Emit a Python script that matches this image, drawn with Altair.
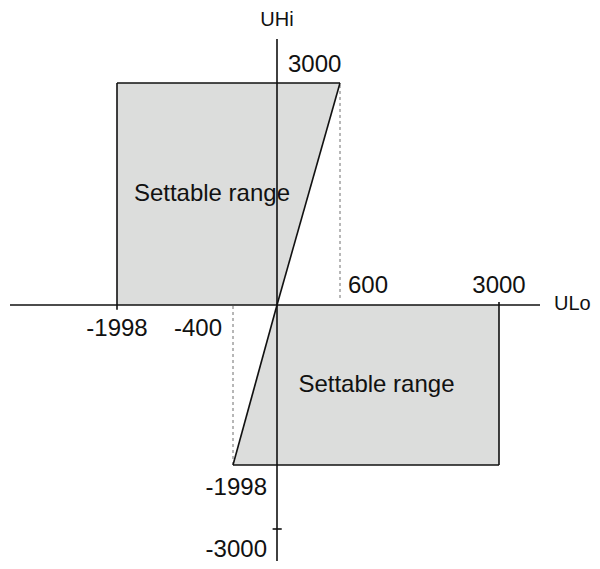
import altair as alt
import pandas as pd

# ---- data (values in ULo / UHi units) ----
upper_x = [-1998, 0, 600]
upper_top = [3000, 3000, 3000]
upper_bottom = [0, 0, 3000]

lower_x = [-400, 0, 3000]
lower_top = [-1998, 0, 0]
lower_bottom = [-1998, -1998, -1998]

# solid segments: axes, region borders, ticks
seg_x1 = [-3500, 0, -1998, -1998, 0, 0, -400, 3000, -40]
seg_y1 = [0, -3700, -60, 3000, 0, 0, -1998, -1998, -3000]
seg_x2 = [3700, 0, -1998, 600, 600, -400, 3000, 3000, 45]
seg_y2 = [0, 3500, 3000, 3000, 3000, -1998, -1998, 40, -3000]

# dashed guide lines
dash_x = [600, -400]
dash_y1 = [95, -1998]
dash_y2 = [3000, 0]

region_label = ["Settable range", "Settable range"]
region_x = [-690, 1150]
region_y = [1400, -1087]

# schematic (piecewise) scales
x_scale = alt.Scale(domain=[-3500, -1998, -400, 0, 600, 3000, 3700],
                    range=[2, 109, 225, 269, 332, 491, 532], nice=False, zero=False)
y_scale = alt.Scale(domain=[-3700, -3000, -1998, 0, 3000, 3500],
                    range=[545, 513, 449, 289, 67, 23], nice=False, zero=False)

FONT = "Liberation Sans"


def X(f):
    return alt.X(f, type="quantitative", scale=x_scale, axis=None)


def Y(f):
    return alt.Y(f, type="quantitative", scale=y_scale, axis=None)


upper = pd.DataFrame({"x": upper_x, "y": upper_top, "y2": upper_bottom})
lower = pd.DataFrame({"x": lower_x, "y": lower_top, "y2": lower_bottom})

fill = "#dcdddc"
area_up = alt.Chart(upper).mark_area(color=fill, opacity=1).encode(
    x=X("x"), y=Y("y"), y2="y2")
area_lo = alt.Chart(lower).mark_area(color=fill, opacity=1).encode(
    x=X("x"), y=Y("y"), y2="y2")

segs = pd.DataFrame({"x": seg_x1, "y": seg_y1, "x2": seg_x2, "y2": seg_y2})
rules = alt.Chart(segs).mark_rule(color="#111111", strokeWidth=1.6).encode(
    x=X("x"), y=Y("y"), x2="x2", y2="y2")

dashes = pd.DataFrame({"x": dash_x, "y": dash_y1, "y2": dash_y2})
dash_rules = alt.Chart(dashes).mark_rule(color="#6f6f6f", strokeWidth=1,
                                          strokeDash=[3, 3]).encode(
    x=X("x"), y=Y("y"), y2="y2")


def text_layer(labels, xs, ys, align, dx, dy, size):
    df = pd.DataFrame({"t": labels, "x": xs, "y": ys})
    return alt.Chart(df).mark_text(align=align, baseline="alphabetic", dx=dx, dy=dy,
                                   font=FONT, fontSize=size, color="#111111").encode(
        x=X("x"), y=Y("y"), text="t:N")


layers = [
    area_up, area_lo, dash_rules, rules,
    text_layer(["UHi"], [0], [3500], "center", 0, -13, 20),
    text_layer(["ULo"], [3700], [0], "left", 14, 5, 20),
    text_layer(["3000"], [0], [3000], "left", 11, -11, 24),
    text_layer(["600"], [600], [0], "left", 8, -12, 24),
    text_layer(["3000"], [3000], [0], "center", 0, -12, 24),
    text_layer(["-1998"], [-1998], [0], "center", 0, 31, 24),
    text_layer(["-400"], [-400], [0], "right", -11, 31, 24),
    text_layer(["-1998"], [0], [-1998], "right", -10, 30, 24),
    text_layer(["-3000"], [0], [-3000], "right", -10, 28, 24),
    text_layer(region_label, region_x, region_y, "center", 0, 0, 24),
]

chart = alt.layer(*layers).properties(
    width=584, height=545,
    padding={"left": 0, "top": 8, "right": 0, "bottom": 0},
    autosize=alt.AutoSizeParams(type="none"),
    background="white",
).configure_view(stroke=None)

chart.save("out.html", embed_options={"renderer": "svg", "actions": False})
